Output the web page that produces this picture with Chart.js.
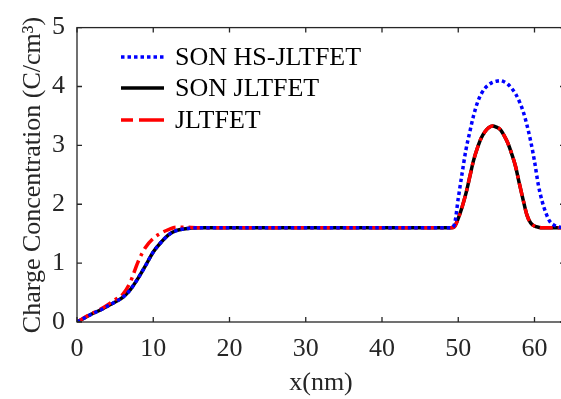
<!DOCTYPE html>
<html>
<head>
<meta charset="utf-8">
<script src="https://cdn.jsdelivr.net/npm/chart.js@4/dist/chart.umd.min.js"></script>
<style>
  html, body { margin: 0; padding: 0; background: #fff; overflow: hidden; }
  #wrap { width: 561px; height: 399px; overflow: hidden; }
</style>
</head>
<body>
<div id="wrap"><canvas id="grafico" width="570" height="399"></canvas></div>
<script>
// posições x (nm)
const posX = [0, 2, 3, 4, 5, 6, 7, 8, 9, 10, 11, 12, 13, 14, 16, 20, 30, 40, 48, 49, 49.5, 50, 50.5, 51, 51.5, 52, 52.5, 53, 53.5, 54, 54.5, 55, 55.5, 56, 56.5, 57, 57.5, 58, 58.5, 59, 59.5, 60, 60.5, 61, 61.5, 62, 62.5, 63, 64];

// SON HS-JLTFET
const sonHs = [0, 0.14, 0.2, 0.27, 0.34, 0.42, 0.55, 0.74, 0.96, 1.19, 1.35, 1.48, 1.55, 1.58, 1.6, 1.6, 1.6, 1.6, 1.6, 1.6, 1.66, 2.1, 2.52, 2.92, 3.22, 3.5, 3.72, 3.87, 3.97, 4.03, 4.07, 4.09, 4.1, 4.08, 4.04, 3.97, 3.88, 3.75, 3.58, 3.35, 3.07, 2.73, 2.33, 2.05, 1.85, 1.71, 1.65, 1.62, 1.6];

// SON JLTFET
const son = [0, 0.14, 0.2, 0.27, 0.34, 0.42, 0.55, 0.74, 0.96, 1.19, 1.35, 1.48, 1.55, 1.58, 1.6, 1.6, 1.6, 1.6, 1.6, 1.6, 1.62, 1.76, 1.95, 2.18, 2.46, 2.74, 2.95, 3.12, 3.23, 3.3, 3.33, 3.31, 3.27, 3.17, 3.04, 2.86, 2.65, 2.36, 2.08, 1.82, 1.68, 1.63, 1.61, 1.6, 1.6, 1.6, 1.6, 1.6, 1.6];

// JLTFET
const jl = [0, 0.15, 0.21, 0.29, 0.38, 0.47, 0.68, 1.02, 1.27, 1.42, 1.51, 1.57, 1.61, 1.61, 1.6, 1.6, 1.6, 1.6, 1.6, 1.6, 1.62, 1.76, 1.95, 2.18, 2.46, 2.74, 2.95, 3.12, 3.23, 3.3, 3.33, 3.31, 3.27, 3.17, 3.04, 2.86, 2.65, 2.36, 2.08, 1.82, 1.68, 1.63, 1.61, 1.6, 1.6, 1.6, 1.6, 1.6, 1.6];

const nomes = ['SON HS-JLTFET', 'SON JLTFET', 'JLTFET'];
const ticksX = [0, 10, 20, 30, 40, 50, 60];
const ticksY = [0, 1, 2, 3, 4, 5];
const tituloY = 'Charge Concentration (C/cm³)';

const fonte = '"Liberation Serif", "Times New Roman", serif';
const cinza = '#262626';

function pares(ys) {
    return posX.map((x, i) => ({ x: x, y: ys[i] }));
}

// legenda dentro do gráfico, canto superior esquerdo
const legendaPlugin = {
    id: 'legendaInterna',
    afterDatasetsDraw(chart) {
        const ctx = chart.ctx;
        const linhas = [57, 88, 120];
        chart.data.datasets.forEach((ds, i) => {
            const y = linhas[i];
            ctx.save();
            ctx.strokeStyle = ds.borderColor;
            ctx.lineWidth = ds.borderWidth;
            ctx.setLineDash(ds.legendDash || ds.borderDash || []);
            ctx.beginPath();
            ctx.moveTo(121, y);
            ctx.lineTo(164, y);
            ctx.stroke();
            ctx.setLineDash([]);
            ctx.fillStyle = '#000';
            ctx.font = '26px ' + fonte;
            ctx.textBaseline = 'middle';
            ctx.fillText(nomes[i], 175, y + 1);
            ctx.restore();
        });
    }
};

// caixa, ticks para dentro e título do eixo y
const caixaPlugin = {
    id: 'caixa',
    afterDraw(chart) {
        const ctx = chart.ctx;
        const a = chart.chartArea;
        const sx = chart.scales.x;
        const sy = chart.scales.y;
        ctx.save();
        ctx.strokeStyle = cinza;
        ctx.lineWidth = 1.3;
        ctx.strokeRect(a.left, a.top, a.right - a.left, a.bottom - a.top);
        ctx.beginPath();
        ticksX.forEach(v => {
            const px = sx.getPixelForValue(v);
            ctx.moveTo(px, a.bottom); ctx.lineTo(px, a.bottom - 5);
            ctx.moveTo(px, a.top); ctx.lineTo(px, a.top + 5);
        });
        ticksY.forEach(v => {
            const py = sy.getPixelForValue(v);
            ctx.moveTo(a.left, py); ctx.lineTo(a.left + 5, py);
            ctx.moveTo(a.right, py); ctx.lineTo(a.right - 5, py);
        });
        ctx.stroke();

        ctx.translate(40, 175);
        ctx.rotate(-Math.PI / 2);
        ctx.fillStyle = cinza;
        ctx.font = '26px ' + fonte;
        ctx.textAlign = 'center';
        ctx.textBaseline = 'alphabetic';
        ctx.fillText(tituloY, 0, 0);
        ctx.restore();
    }
};

const ctx = document.getElementById('grafico').getContext('2d');
new Chart(ctx, {
    type: 'line',
    data: {
        datasets: [
            {
                label: nomes[0],
                data: pares(sonHs),
                borderColor: '#0000ff',
                borderWidth: 3.5,
                borderDash: [3.5, 3],
                order: 0
            },
            {
                label: nomes[1],
                data: pares(son),
                borderColor: '#000000',
                borderWidth: 3.5,
                order: 2
            },
            {
                label: nomes[2],
                data: pares(jl),
                borderColor: '#ff0000',
                borderWidth: 3.5,
                borderDash: [13, 5, 3, 5],
                legendDash: [12, 6, 30, 0],
                order: 1
            }
        ]
    },
    options: {
        responsive: false,
        animation: false,
        layout: { padding: { top: 19, right: 5, left: 0, bottom: 0 } },
        elements: {
            point: { radius: 0 },
            line: { cubicInterpolationMode: 'monotone', fill: false }
        },
        plugins: {
            legend: { display: false },
            tooltip: { enabled: false }
        },
        scales: {
            x: {
                type: 'linear',
                min: 0,
                max: 64,
                afterFit(scale) { scale.height = 77; },
                afterBuildTicks(scale) { scale.ticks = ticksX.map(v => ({ value: v })); },
                grid: { display: false, drawTicks: false },
                border: { display: false },
                ticks: { color: cinza, padding: 12, font: { family: fonte, size: 26 } },
                title: {
                    display: true,
                    text: 'x(nm)',
                    color: cinza,
                    padding: { top: 0, bottom: 0 },
                    font: { family: fonte, size: 26 }
                }
            },
            y: {
                min: 0,
                max: 5,
                afterFit(scale) { scale.width = 77; },
                afterBuildTicks(scale) { scale.ticks = ticksY.map(v => ({ value: v })); },
                grid: { display: false, drawTicks: false },
                border: { display: false },
                ticks: { color: cinza, padding: 12, font: { family: fonte, size: 26 } },
                title: { display: false }
            }
        }
    },
    plugins: [legendaPlugin, caixaPlugin]
});
</script>
</body>
</html>
